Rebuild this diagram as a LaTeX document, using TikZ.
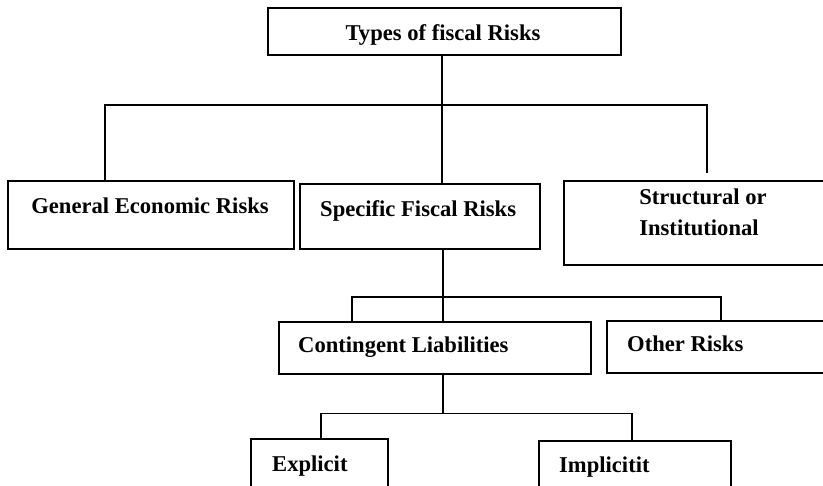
\documentclass[tikz,border=0pt]{standalone}
\usepackage{fontspec}
\setmainfont{Liberation Serif}
\begin{document}
\begin{tikzpicture}[x=1pt,y=-1pt,
  box/.style={draw=black,line width=2.1pt,rectangle,inner sep=0pt,anchor=north west},
  lbl/.style={inner sep=0pt,font=\fontsize{22.6}{26}\selectfont\bfseries},
  conn/.style={draw=black,line width=1.8pt}]
\useasboundingbox (0,0) rectangle (823,486);
\clip (0,0) rectangle (823,486);
% boxes
\node[box,minimum width=353pt,minimum height=47pt] (top) at (267,7) {};
\node[box,minimum width=286pt,minimum height=68pt] (gen) at (7,180) {};
\node[box,minimum width=240pt,minimum height=65pt] (spec) at (299,183) {};
\node[box,minimum width=276pt,minimum height=84pt] (struct) at (563,180) {};
\node[box,minimum width=312pt,minimum height=52pt] (cont) at (278,321) {};
\node[box,minimum width=274pt,minimum height=52pt] (other) at (606,320) {};
\node[box,minimum width=137pt,minimum height=70pt] (expl) at (250,438) {};
\node[box,minimum width=192pt,minimum height=70pt] (impl) at (538,440) {};
% labels
\node[lbl,anchor=base] (topt) at (443,41) {Types of fiscal Risks};
\node[lbl,anchor=base] (gent) at (150,214) {General Economic Risks};
\node[lbl,anchor=base west] (spect) at (320,216.5) {Specific Fiscal Risks};
\node[lbl,anchor=base] (structa) at (703,205) {Structural or};
\node[lbl,anchor=base] (structb) at (699,235.5) {Institutional};
\node[lbl,anchor=base west] (contt) at (298,353) {Contingent Liabilities};
\node[lbl,anchor=base west] (othert) at (627,352) {Other Risks};
\node[lbl,anchor=base west] (explt) at (272,471.5) {Explicit};
\node[lbl,anchor=base west] (implt) at (559,472.5) {Implicitit};
% junction coordinates
\coordinate (j1) at (442,105);
\coordinate (h1l) at (105,105);
\coordinate (h1r) at (707,105);
\coordinate (s1end) at (707,173);
\coordinate (j2) at (443,297);
\coordinate (h2l) at (352,297);
\coordinate (h2r) at (721,297);
\coordinate (j3) at (443,413.5);
\coordinate (h3l) at (321,413.5);
\coordinate (h3r) at (632,413.5);
% connectors level 1
\draw[conn] (top.south -| j1) -- (j1);
\draw[conn] (gen.north -| h1l) -- (h1l) -- (h1r) -- (s1end);
\draw[conn] (j1) -- (spec.north -| j1);
% level 2
\draw[conn] (spec.south -| j2) -- (cont.north -| j2);
\draw[conn] (cont.north -| h2l) -- (h2l) -- (h2r) -- (other.north -| h2r);
% level 3
\draw[conn] (cont.south -| j3) -- (j3);
\draw[conn] (expl.north -| h3l) -- (h3l) -- (h3r) -- (impl.north -| h3r);
\end{tikzpicture}
\end{document}
